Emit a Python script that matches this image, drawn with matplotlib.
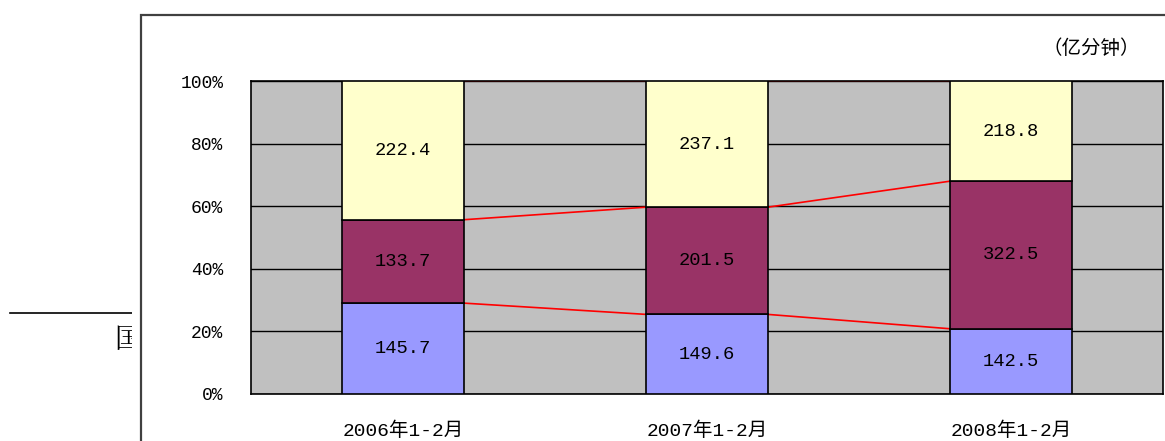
import numpy as np
import matplotlib.pyplot as plt
from matplotlib.patches import Rectangle

plt.rcParams['font.family'] = ['Liberation Mono', 'Noto Sans CJK SC', 'DejaVu Sans']

periods = ['2006年1-2月', '2007年1-2月', '2008年1-2月']
bottom_vals = [145.7, 149.6, 142.5]
middle_vals = [133.7, 201.5, 322.5]
top_vals = [222.4, 237.1, 218.8]
y_ticks = [0, 20, 40, 60, 80, 100]
y_tick_labels = ['0%', '20%', '40%', '60%', '80%', '100%']
unit_label = '（亿分钟）'

colors = ['#9999FF', '#993366', '#FFFFCC']
bar_w = 0.4

# convert to percentages
series = np.array([bottom_vals, middle_vals, top_vals])
totals = series.sum(axis=0)
pct = series / totals * 100
cum = np.cumsum(pct, axis=0)

fig = plt.figure(figsize=(11.65, 4.41), dpi=100)

# document text behind the chart object
fig.add_artist(plt.Line2D([10 / 1165, 132 / 1165], [1 - 313 / 441, 1 - 313 / 441],
                          transform=fig.transFigure, color='black', lw=1.2, zorder=1))
fig.text(114 / 1165, 1 - 340 / 441, '国', fontsize=20, va='center', ha='left',
         family=['Noto Serif CJK SC', 'Noto Sans CJK SC'], zorder=1)
# white chart object covering it
fig.add_artist(Rectangle((132 / 1165, -0.1), 1.0, 1.1, transform=fig.transFigure,
                         facecolor='white', edgecolor='none', zorder=2))
fig.add_artist(Rectangle((141 / 1165, -0.1), 1.0, 1 - 15 / 441 + 0.1,
                         transform=fig.transFigure, facecolor='white',
                         edgecolor='#404040', lw=1.6, zorder=2))

ax = fig.add_axes([251 / 1165, 47 / 441, 912 / 1165, 313 / 441], zorder=3)
ax.set_facecolor('#C0C0C0')

x = np.arange(len(periods))
base = np.zeros(len(periods))
for i in range(3):
    ax.bar(x, pct[i], bar_w, bottom=base, color=colors[i], edgecolor='black',
           linewidth=1.2, zorder=3)
    for j in range(len(periods)):
        ax.text(x[j], base[j] + pct[i][j] / 2, '%.1f' % series[i][j],
                ha='center', va='center', fontsize=13.5, zorder=4)
    base = base + pct[i]

# series lines between bars
for i in range(3):
    for j in range(len(periods) - 1):
        ax.plot([x[j] + bar_w / 2, x[j + 1] - bar_w / 2], [cum[i][j], cum[i][j + 1]],
                color='red', lw=1.2, zorder=2.5)

for t in y_ticks:
    ax.axhline(t, color='black', lw=1.0, zorder=1)

ax.set_xlim(-0.5, 2.5)
ax.set_ylim(0, 100)
ax.set_yticks(y_ticks)
ax.set_yticklabels(y_tick_labels, fontsize=13)
ax.set_xticks(x)
ax.set_xticklabels(periods, fontsize=14)
ax.tick_params(axis='y', length=0, pad=20)
ax.tick_params(axis='x', length=0, pad=20)
for s in ax.spines.values():
    s.set_color('black')
    s.set_linewidth(1.2)

fig.text(1140 / 1165, 1 - 48 / 441, unit_label, ha='right', va='center', fontsize=14,
         family=['Noto Sans CJK SC'], zorder=4)

plt.savefig('out.png', dpi=100)
